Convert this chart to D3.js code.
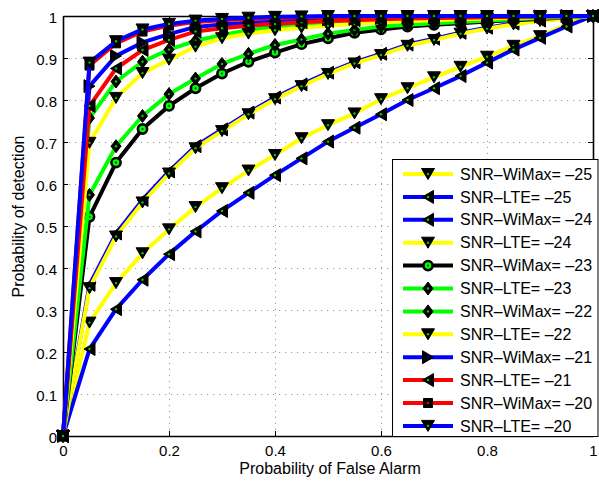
<!DOCTYPE html>
<html>
<head>
<meta charset="utf-8">
<script src="https://cdn.jsdelivr.net/npm/d3@7"></script>
<style>
  html, body { margin: 0; padding: 0; background: #fff; }
  svg { display: block; font-family: "Liberation Sans", Arial, Helvetica, sans-serif; }
</style>
</head>
<body>
<svg id="chart" width="599" height="481"></svg>
<script>
// Probability of false alarm (x) sampled every 0.05
const falseAlarm = [0, 0.05, 0.1, 0.15, 0.2, 0.25, 0.3, 0.35, 0.4, 0.45, 0.5,
                    0.55, 0.6, 0.65, 0.7, 0.75, 0.8, 0.85, 0.9, 0.95, 1];

// Probability of detection for each SNR setting
const pdWiMax25 = [0, 0.270, 0.364, 0.435, 0.492, 0.545, 0.590, 0.632, 0.669, 0.709, 0.740,
                   0.768, 0.802, 0.828, 0.854, 0.879, 0.903, 0.929, 0.952, 0.979, 1.000];
const pdLTE25   = [0, 0.207, 0.302, 0.372, 0.433, 0.487, 0.536, 0.579, 0.621, 0.661, 0.701,
                   0.734, 0.766, 0.800, 0.828, 0.857, 0.889, 0.920, 0.948, 0.975, 1.000];
const pdWiMax24 = [0, 0.360, 0.482, 0.562, 0.630, 0.690, 0.730, 0.770, 0.806, 0.837, 0.865,
                   0.890, 0.910, 0.932, 0.946, 0.960, 0.972, 0.982, 0.989, 0.995, 1.000];
const pdLTE24   = [0, 0.352, 0.475, 0.556, 0.625, 0.685, 0.726, 0.766, 0.802, 0.833, 0.862,
                   0.887, 0.907, 0.929, 0.943, 0.958, 0.970, 0.980, 0.988, 0.994, 1.000];
const pdWiMax23 = [0, 0.522, 0.651, 0.731, 0.786, 0.828, 0.863, 0.891, 0.913, 0.933, 0.947,
                   0.960, 0.968, 0.975, 0.979, 0.983, 0.987, 0.990, 0.993, 0.997, 1.000];
const pdLTE23   = [0, 0.574, 0.690, 0.762, 0.814, 0.851, 0.886, 0.910, 0.931, 0.944, 0.958,
                   0.967, 0.975, 0.979, 0.983, 0.986, 0.989, 0.992, 0.995, 0.997, 1.000];
const pdWiMax22 = [0, 0.757, 0.844, 0.891, 0.920, 0.941, 0.955, 0.966, 0.974, 0.980, 0.984,
                   0.987, 0.990, 0.992, 0.994, 0.995, 0.996, 0.997, 0.998, 0.999, 1.000];
const pdLTE22   = [0, 0.698, 0.805, 0.864, 0.896, 0.927, 0.947, 0.958, 0.966, 0.972, 0.977,
                   0.981, 0.985, 0.988, 0.990, 0.992, 0.994, 0.996, 0.997, 0.999, 1.000];
const pdWiMax21 = [0, 0.833, 0.905, 0.937, 0.957, 0.974, 0.980, 0.984, 0.987, 0.990, 0.992,
                   0.993, 0.995, 0.996, 0.997, 0.998, 0.998, 0.999, 0.999, 1.000, 1.000];
const pdLTE21   = [0, 0.786, 0.875, 0.919, 0.943, 0.963, 0.971, 0.977, 0.981, 0.985, 0.988,
                   0.990, 0.992, 0.994, 0.995, 0.996, 0.997, 0.998, 0.999, 0.999, 1.000];
const pdWiMax20 = [0, 0.882, 0.935, 0.963, 0.977, 0.986, 0.990, 0.993, 0.995, 0.997, 0.998,
                   0.999, 0.999, 1.000, 1.000, 1.000, 1.000, 1.000, 1.000, 1.000, 1.000];
const pdLTE20   = [0, 0.889, 0.940, 0.968, 0.981, 0.989, 0.993, 0.996, 0.998, 0.999, 1.000,
                   1.000, 1.000, 1.000, 1.000, 1.000, 1.000, 1.000, 1.000, 1.000, 1.000];

const seriesNames = [
  "SNR–WiMax= –25", "SNR–LTE= –25", "SNR–WiMax= –24", "SNR–LTE= –24",
  "SNR–WiMax= –23", "SNR–LTE= –23", "SNR–WiMax= –22", "SNR–LTE= –22",
  "SNR–WiMax= –21", "SNR–LTE= –21", "SNR–WiMax= –20", "SNR–LTE= –20"
];
const seriesValues = [pdWiMax25, pdLTE25, pdWiMax24, pdLTE24, pdWiMax23, pdLTE23,
                      pdWiMax22, pdLTE22, pdWiMax21, pdLTE21, pdWiMax20, pdLTE20];

// Tick values and their labels
const xTicks = [0, 0.2, 0.4, 0.6, 0.8, 1];
const xTickLabels = ["0", "0.2", "0.4", "0.6", "0.8", "1"];
const yTicks = [0, 0.1, 0.2, 0.3, 0.4, 0.5, 0.6, 0.7, 0.8, 0.9, 1];
const yTickLabels = ["0", "0.1", "0.2", "0.3", "0.4", "0.5", "0.6", "0.7", "0.8", "0.9", "1"];

// Line colour, marker shape and marker centre colour per series
const seriesStyle = [
  { color: "#ffff00", marker: "down",    dot: "#00d000" },
  { color: "#0000ff", marker: "left",    dot: "#00d000" },
  { color: "#0000ff", marker: "left",    dot: "#00d000" },
  { color: "#ffff00", marker: "down",    dot: "#00d000" },
  { color: "#000000", marker: "circle",  dot: "#00ff00" },
  { color: "#00ff00", marker: "diamond", dot: "#00d000" },
  { color: "#00ff00", marker: "diamond", dot: "#00d000" },
  { color: "#ffff00", marker: "down",    dot: "#00d000" },
  { color: "#0000ff", marker: "right",   dot: "#0000aa" },
  { color: "#ff0000", marker: "left",    dot: "#00d000" },
  { color: "#ff0000", marker: "square",  dot: "#ff0000" },
  { color: "#0000ff", marker: "down",    dot: "#00d000" }
];

const svg = d3.select("#chart");
const plot = { left: 63, right: 593, top: 16, bottom: 436 };

const x = d3.scaleLinear().domain([0, 1]).range([plot.left, plot.right]);
const y = d3.scaleLinear().domain([0, 1]).range([plot.bottom, plot.top]);

// Dotted grid
const grid = svg.append("g").attr("stroke", "#9a9a9a").attr("stroke-width", 1)
  .attr("stroke-dasharray", "1.2,4.8");
grid.selectAll("line.gx").data(xTicks.slice(1, -1)).enter().append("line")
  .attr("x1", d => x(d) + 0.5).attr("x2", d => x(d) + 0.5)
  .attr("y1", plot.bottom).attr("y2", plot.top);
grid.selectAll("line.gy").data(yTicks.slice(1, -1)).enter().append("line")
  .attr("y1", d => y(d) + 0.5).attr("y2", d => y(d) + 0.5)
  .attr("x1", plot.left).attr("x2", plot.right);

// Axes with inward ticks on all four sides
function styleAxis(g) {
  g.select(".domain").attr("stroke", "#000").attr("stroke-width", 1.6);
  g.selectAll(".tick line").attr("stroke", "#000").attr("stroke-width", 1);
  g.selectAll(".tick text").attr("fill", "#000").attr("font-size", 15);
}
svg.append("g").attr("transform", `translate(0,${plot.bottom})`)
  .call(d3.axisBottom(x).tickValues(xTicks).tickSizeInner(-5).tickSizeOuter(0).tickPadding(9)
    .tickFormat((d, i) => xTickLabels[i]))
  .call(styleAxis);
svg.append("g").attr("transform", `translate(0,${plot.top})`)
  .call(d3.axisTop(x).tickValues(xTicks).tickSizeInner(-5).tickSizeOuter(0).tickFormat(""))
  .call(styleAxis);
svg.append("g").attr("transform", `translate(${plot.left},0)`)
  .call(d3.axisLeft(y).tickValues(yTicks).tickSizeInner(-5).tickSizeOuter(0).tickPadding(6)
    .tickFormat((d, i) => yTickLabels[i]))
  .call(styleAxis)
  .selectAll(".tick text").attr("dy", "0.4em");
svg.append("g").attr("transform", `translate(${plot.right},0)`)
  .call(d3.axisRight(y).tickValues(yTicks).tickSizeInner(-5).tickSizeOuter(0).tickFormat(""))
  .call(styleAxis);

// Axis titles
svg.append("text").attr("x", 330).attr("y", 474.3).attr("text-anchor", "middle")
  .attr("font-size", 16).attr("fill", "#000").text("Probability of False Alarm");
svg.append("text").attr("transform", "translate(24,216.5) rotate(-90)")
  .attr("text-anchor", "middle").attr("font-size", 16).attr("fill", "#000")
  .text("Probability of detection");

// Marker drawing
const markerPaths = {
  down:    "M-6.5,-5.5L6.5,-5.5L0,5.5Z",
  left:    "M-5.5,0L5.5,-6.5L5.5,6.5Z",
  right:   "M5.5,0L-5.5,-6.5L-5.5,6.5Z",
  diamond: "M0,-6.5L5,0L0,6.5L-5,0Z",
  square:  "M-4.5,-4.5L4.5,-4.5L4.5,4.5L-4.5,4.5Z"
};
function drawMarker(g, cx, cy, st) {
  const m = g.append("g").attr("transform", `translate(${cx},${cy})`);
  if (st.marker === "circle") {
    m.append("circle").attr("r", 4.6).attr("fill", st.dot)
      .attr("stroke", "#000").attr("stroke-width", 2.6);
    m.append("circle").attr("r", 1.1).attr("fill", "#005000");
  } else {
    m.append("path").attr("d", markerPaths[st.marker]).attr("fill", "#000")
      .attr("stroke", "#000").attr("stroke-width", 1).attr("stroke-linejoin", "round");
    m.append("circle").attr("r", 1.2).attr("fill", st.dot);
  }
}

// Curves, drawn in series order so later ones sit on top
const line = d3.line().x((d, i) => x(falseAlarm[i])).y(d => y(d));
const curves = svg.append("g");
seriesValues.forEach((vals, s) => {
  const st = seriesStyle[s];
  const g = curves.append("g");
  g.append("path").datum(vals).attr("d", line).attr("fill", "none")
    .attr("stroke", st.color).attr("stroke-width", 4).attr("stroke-linejoin", "round");
  vals.forEach((v, i) => drawMarker(g, x(falseAlarm[i]), y(v), st));
});

// Legend
const legend = svg.append("g");
legend.append("rect").attr("x", 392.5).attr("y", 159.5).attr("width", 205.5).attr("height", 277)
  .attr("fill", "#fff").attr("stroke", "#000").attr("stroke-width", 1);
seriesNames.forEach((name, i) => {
  const st = seriesStyle[i];
  const ry = 174 + i * 22.9;
  const row = legend.append("g");
  row.append("line").attr("x1", 403).attr("x2", 453).attr("y1", ry).attr("y2", ry)
    .attr("stroke", st.color).attr("stroke-width", 4);
  drawMarker(row, 428, ry, st);
  row.append("text").attr("x", 460).attr("y", ry).attr("dy", "0.35em")
    .attr("font-size", 16).attr("fill", "#000").text(name);
});
</script>
</body>
</html>
